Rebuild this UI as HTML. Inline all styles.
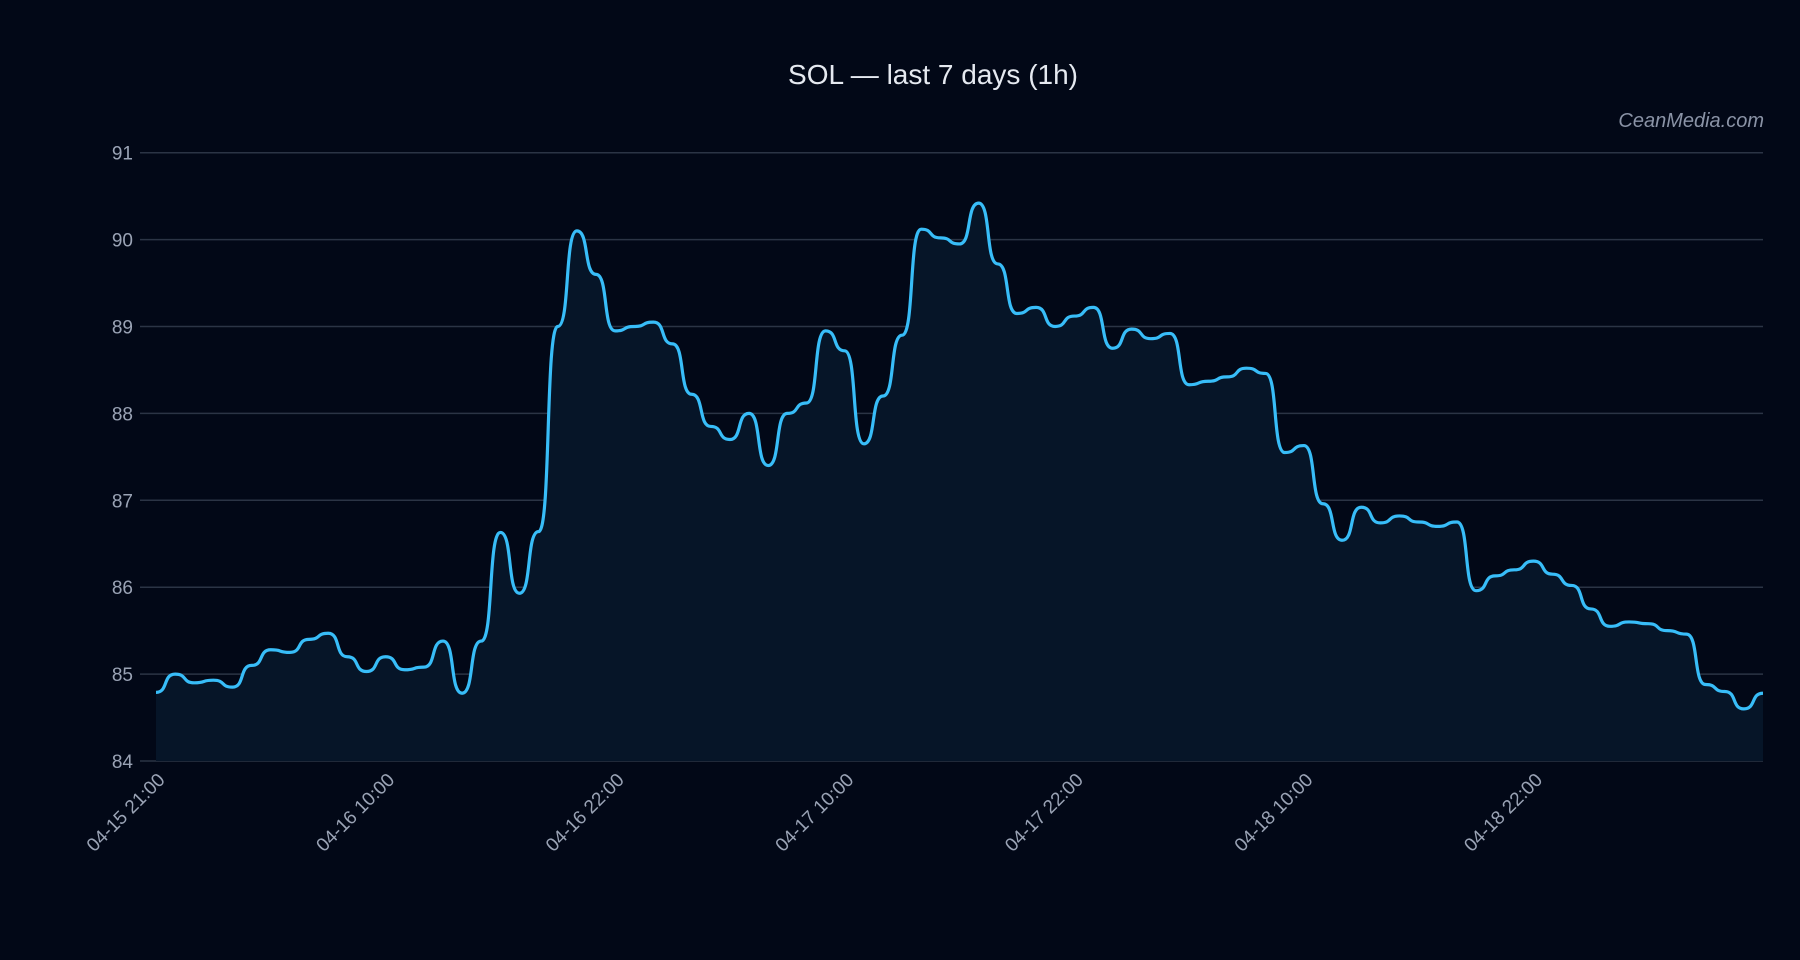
<!DOCTYPE html>
<html><head><meta charset="utf-8">
<style>
html,body{margin:0;padding:0;background:#020817;}
svg{display:block;font-family:"Liberation Sans",sans-serif;}
</style></head>
<body>
<svg id="chart" width="1800" height="960" viewBox="0 0 1800 960" xmlns="http://www.w3.org/2000/svg">
<rect x="0" y="0" width="1800" height="960" fill="#020817"/>
<text x="933" y="84" text-anchor="middle" font-size="28" fill="#e5e9f0">SOL — last 7 days (1h)</text>
<text x="1764" y="127" text-anchor="end" font-size="20" font-style="italic" fill="#8a93a6">CeanMedia.com</text>
<g id="grid"></g>
<g id="yaxis"></g>
<g id="xaxis"></g>
<path id="area" fill="#061528"/>
<path id="line" fill="none" stroke="#38bdf8" stroke-width="3.2" stroke-linejoin="round"/>
</svg>
<script>
const prices = [84.79,85.0,84.9,84.93,84.85,85.1,85.28,85.25,85.4,85.47,85.2,85.03,85.2,85.05,85.08,85.38,84.78,85.38,86.63,85.93,86.64,89.0,
90.1,89.6,88.95,89.0,89.05,88.8,88.22,87.85,87.7,88.0,87.4,88.0,88.12,88.95,88.72,87.65,88.2,88.9,90.12,90.02,89.95,90.42,89.72,89.15,89.22,89.0,89.12,89.22,88.75,88.97,88.86,88.92,88.33,88.37,88.42,88.52,88.46,87.55,87.63,86.96,86.54,86.92,86.74,86.82,86.75,86.7,86.75,85.96,86.13,86.2,86.3,86.15,86.02,85.75,85.55,85.6,85.58,85.5,85.46,84.88,84.8,84.6,84.78];
const yTicks = [84,85,86,87,88,89,90,91];
const xTickIndex = [0,12,24,36,48,60,72];
const xTickLabels = ["04-15 21:00","04-16 10:00","04-16 22:00","04-17 10:00","04-17 22:00","04-18 10:00","04-18 22:00"];

const L=156,R=1763,T=152.7,B=761,ymin=84,ymax=91;
const NS="http://www.w3.org/2000/svg";
function xs(i){return L+(R-L)*i/(prices.length-1);}
function ys(v){return B-(v-ymin)/(ymax-ymin)*(B-T);}
const grid=document.getElementById('grid'),yax=document.getElementById('yaxis'),xax=document.getElementById('xaxis');
yTicks.forEach(v=>{
  const l=document.createElementNS(NS,'line');
  
  
  l.setAttribute('x1',140);l.setAttribute('x2',R);l.setAttribute('y1',ys(v));l.setAttribute('y2',ys(v));
  l.setAttribute('stroke','#2b3445');l.setAttribute('stroke-width','1.5');
  grid.appendChild(l);
  const t=document.createElementNS(NS,'text');
  
  
  t.setAttribute('x',133);t.setAttribute('y',ys(v)+7);t.setAttribute('text-anchor','end');
  t.setAttribute('font-size','19');t.setAttribute('fill','#9aa3b5');t.textContent=v;
  yax.appendChild(t);
});
xTickIndex.forEach((idx,k)=>{
  const x=xs(idx);
  const t=document.createElementNS(NS,'text');
  
  
  const tx=x+10,ty=B+20;
  t.setAttribute('x',tx);t.setAttribute('y',ty);t.setAttribute('text-anchor','end');
  t.setAttribute('font-size','19');t.setAttribute('fill','#9aa3b5');
  t.setAttribute('transform','rotate(-45 '+tx+' '+ty+')');
  t.textContent=xTickLabels[k];
  xax.appendChild(t);
});
let d='M'+xs(0)+','+ys(prices[0]);
for(let i=1;i<prices.length;i++){
  const x0=xs(i-1),x1=xs(i),dx=x1-x0;
  d+=' C'+(x0+dx*0.65)+','+ys(prices[i-1])+' '+(x1-dx*0.65)+','+ys(prices[i])+' '+x1+','+ys(prices[i]);
}
document.getElementById('line').setAttribute('d',d);
document.getElementById('area').setAttribute('d',d+' L'+xs(prices.length-1)+','+B+' L'+xs(0)+','+B+' Z');
</script>
</body></html>
